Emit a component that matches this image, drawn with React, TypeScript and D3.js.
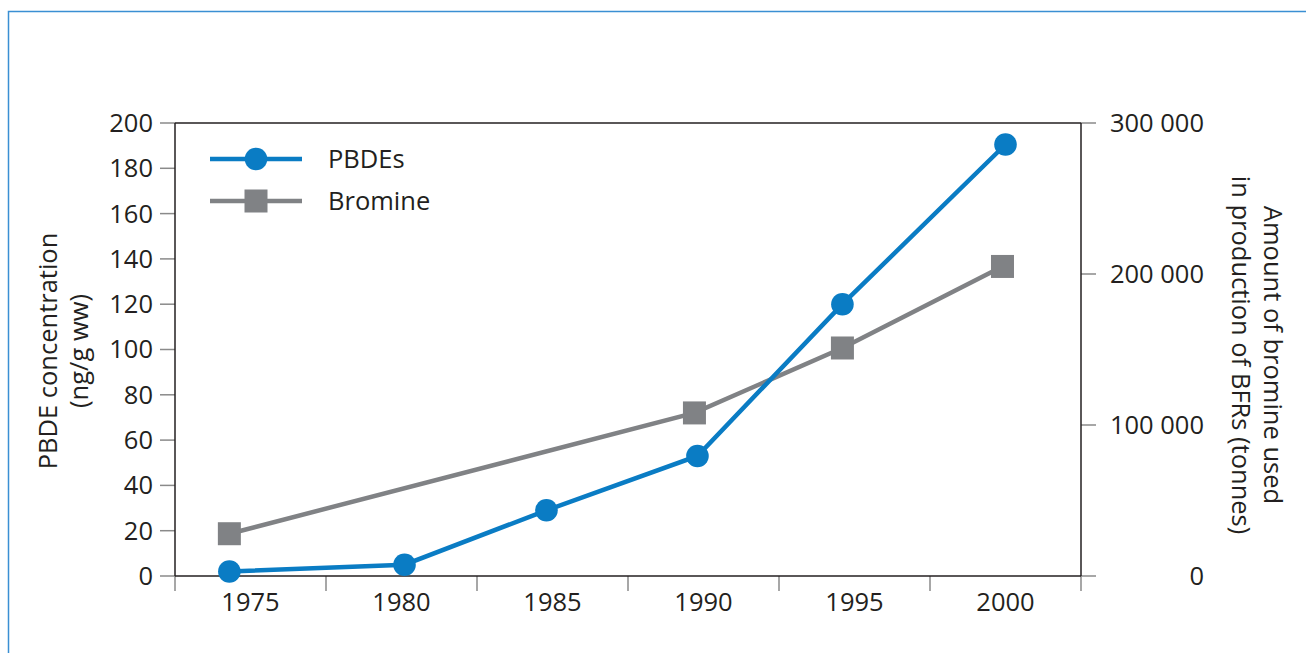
import React from "react";
import * as d3 from "d3";

const categories = ["1975", "1980", "1985", "1990", "1995", "2000"];
const pbdeYears = [1974.3, 1980.1, 1984.8, 1989.8, 1994.6, 2000.0];
const pbdeValues = [2, 5, 29, 53, 120, 190.5];
const bromineYears = [1974.3, 1989.7, 1994.6, 1999.9];
const bromineValues = [28000, 108000, 151000, 205000];
const leftTicks = [0, 20, 40, 60, 80, 100, 120, 140, 160, 180, 200];
const rightTicks = [0, 100000, 200000, 300000];

const W = 1306;
const H = 653;
const L = 175;
const R = 1081;
const T = 123;
const B = 576;
const BLUE = "#0a7cc4";
const GRAY = "#808285";
const DARK = "#231f20";
const TICKGRAY = "#8a8a8a";
const FONT = "'Open Sans', 'Noto Sans', sans-serif";
const FS = 25.5;

export default function App() {
  const x = d3.scaleLinear().domain([1972.5, 2002.5]).range([L, R]);
  const band = d3.scaleBand().domain(categories).range([L, R]);
  const yL = d3.scaleLinear().domain([0, 200]).range([B, T]);
  const yR = d3.scaleLinear().domain([0, 300000]).range([B, T]);
  const fmt = (v: number) => d3.format(",")(v).replace(/,/g, " ");

  const pbdePts = pbdeYears.map((yr, i) => [x(yr), yL(pbdeValues[i])] as [number, number]);
  const brPts = bromineYears.map((yr, i) => [x(yr), yR(bromineValues[i])] as [number, number]);
  const line = d3.line<[number, number]>();
  const bandEdges = categories.map((c) => band(c) as number).concat([R]);

  return (
    <svg
      width={W}
      height={H}
      style={{ position: "absolute", left: 0, top: 0, background: "#fff" }}
      fontFamily={FONT}
    >
      <rect x={8.5} y={11.5} width={W + 20} height={H + 20} fill="none" stroke="#3a8fd3" strokeWidth={1.5} />

      {/* left ticks */}
      {leftTicks.map((t) => (
        <g key={"l" + t}>
          <line x1={160} x2={L} y1={yL(t)} y2={yL(t)} stroke={TICKGRAY} strokeWidth={1.5} />
          <text x={153} y={yL(t)} dy="0.35em" textAnchor="end" fontSize={FS} fill={DARK}>
            {t}
          </text>
        </g>
      ))}
      {/* right ticks */}
      {rightTicks.map((t) => (
        <g key={"r" + t}>
          <line x1={R} x2={1096} y1={yR(t)} y2={yR(t)} stroke={TICKGRAY} strokeWidth={1.5} />
          <text x={1204} y={yR(t)} dy="0.35em" textAnchor="end" fontSize={FS} fill={DARK}>
            {fmt(t)}
          </text>
        </g>
      ))}
      {/* x ticks */}
      {bandEdges.map((e, i) => (
        <line key={"x" + i} x1={e} x2={e} y1={B} y2={591} stroke={TICKGRAY} strokeWidth={1.5} />
      ))}
      {categories.map((c) => (
        <text
          key={"c" + c}
          x={(band(c) as number) + band.bandwidth() / 2}
          y={611}
          textAnchor="middle"
          fontSize={FS}
          fill={DARK}
        >
          {c}
        </text>
      ))}

      {/* frame of plot */}
      <line x1={L} x2={R} y1={T} y2={T} stroke={DARK} strokeWidth={1.5} />
      <line x1={L} x2={L} y1={T} y2={B} stroke={DARK} strokeWidth={1.5} />
      <line x1={R} x2={R} y1={T} y2={B} stroke={DARK} strokeWidth={1.5} />
      <line x1={L} x2={R} y1={B} y2={B} stroke={DARK} strokeWidth={1.5} />

      {/* series */}
      <path d={line(brPts) as string} fill="none" stroke={GRAY} strokeWidth={4.5} />
      {brPts.map((p, i) => (
        <rect key={"b" + i} x={p[0] - 11.5} y={p[1] - 11.5} width={23} height={23} fill={GRAY} />
      ))}
      <path d={line(pbdePts) as string} fill="none" stroke={BLUE} strokeWidth={4.5} />
      {pbdePts.map((p, i) => (
        <circle key={"p" + i} cx={p[0]} cy={p[1]} r={11.3} fill={BLUE} />
      ))}

      {/* legend */}
      <line x1={210} x2={302} y1={159} y2={159} stroke={BLUE} strokeWidth={4.5} />
      <circle cx={256} cy={159} r={11.3} fill={BLUE} />
      <text x={328} y={167.5} fontSize={FS} fill={DARK}>PBDEs</text>
      <line x1={210} x2={302} y1={201} y2={201} stroke={GRAY} strokeWidth={4.5} />
      <rect x={256 - 11.5} y={201 - 11.5} width={23} height={23} fill={GRAY} />
      <text x={328} y={209.5} fontSize={FS} fill={DARK}>Bromine</text>

      {/* left axis title */}
      <g transform="translate(57,351) rotate(-90)">
        <text x={0} y={0} textAnchor="middle" fontSize={FS} fill={DARK}>PBDE concentration</text>
        <text x={0} y={31} textAnchor="middle" fontSize={FS} fill={DARK}>(ng/g ww)</text>
      </g>
      {/* right axis title */}
      <g transform="translate(1264,355) rotate(90)">
        <text x={0} y={0} textAnchor="middle" fontSize={FS} fill={DARK}>Amount of bromine used</text>
        <text x={0} y={32} textAnchor="middle" fontSize={FS} fill={DARK}>in production of BFRs (tonnes)</text>
      </g>
    </svg>
  );
}
